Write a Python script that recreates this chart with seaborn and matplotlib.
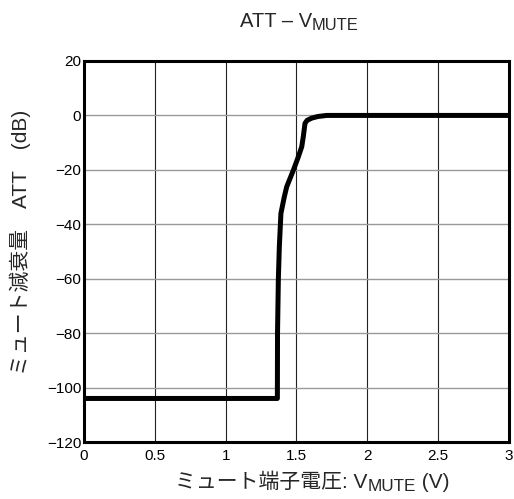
import matplotlib
matplotlib.use("Agg")
import matplotlib.pyplot as plt
import seaborn as sns
import pandas as pd

# Mute attenuation vs mute pin voltage
v_mute = [0.0, 1.365, 1.366, 1.372, 1.379, 1.39, 1.414, 1.431, 1.478, 1.513,
          1.537, 1.548, 1.56, 1.575, 1.607, 1.65, 1.713, 2.0, 3.0]
att_db = [-104.0, -104.0, -80.0, -60.0, -48.0, -36.0, -29.9, -26.2, -20.1, -15.2,
          -11.5, -7.8, -2.9, -1.8, -1.0, -0.4, 0.0, 0.0, 0.0]

x_ticks = [0, 0.5, 1, 1.5, 2, 2.5, 3]
x_tick_labels = ["0", "0.5", "1", "1.5", "2", "2.5", "3"]
y_ticks = [-120, -100, -80, -60, -40, -20, 0, 20]
y_tick_labels = ["\u2212120", "\u2212100", "\u221280", "\u221260", "\u221240", "\u221220", "0", "20"]

title_parts = [("ATT \u2013 V", False), ("MUTE", True)]
xlabel_parts = [("ミュート端子電圧: V", False), ("MUTE", True), (" (V)", False)]
ylabel_text = "ミュート減衰量\u3000ATT\u3000(dB)"

sns.set_theme(style="white")
plt.rcParams["font.family"] = ["Liberation Sans", "Noto Sans CJK JP", "DejaVu Sans"]

df = pd.DataFrame({"V": v_mute, "ATT": att_db})

W, H = 514, 499
fig = plt.figure(figsize=(W / 100, H / 100), dpi=100)
ax = fig.add_axes([84 / W, 1 - 442 / H, (509 - 84) / W, (442 - 61) / H])

sns.lineplot(data=df, x="V", y="ATT", ax=ax, color="black", linewidth=3.6,
             sort=False, estimator=None, zorder=5)

ax.set_xlim(0, 3)
ax.set_ylim(-120, 20)
ax.set_xticks(x_ticks)
ax.set_xticklabels(x_tick_labels)
ax.set_yticks(y_ticks)
ax.set_yticklabels(y_tick_labels)
ax.tick_params(axis="both", length=0, labelsize=11, colors="black")
ax.tick_params(axis="x", pad=5)
ax.tick_params(axis="y", pad=2)

for x in x_ticks[1:-1]:
    ax.axvline(x, color="#222222", linewidth=0.8, zorder=1)
for y in y_ticks[1:-1]:
    ax.axhline(y, color="#999999", linewidth=1.0, zorder=1)

for sp in ax.spines.values():
    sp.set_visible(True)
    sp.set_color("black")
    sp.set_linewidth(2.2)

ax.set_xlabel("")
ax.set_ylabel("")
fig.text(20 / W, 1 - 242 / H, ylabel_text, rotation=90, ha="center", va="center",
         fontsize=15)


def draw_parts(parts, cx_px, baseline_px, size, sub_scale=0.82, sub_drop=3.0):
    """Draw a label with lowered, smaller runs, centred at cx_px."""
    renderer = fig.canvas.get_renderer()
    arts, widths = [], []
    for text, is_sub in parts:
        fs = size * sub_scale if is_sub else size
        t = fig.text(0, 0, text, fontsize=fs, ha="left", va="baseline")
        arts.append((t, is_sub))
        widths.append(t.get_window_extent(renderer).width)
    x = cx_px - sum(widths) / 2
    for (t, is_sub), w in zip(arts, widths):
        y = baseline_px + (sub_drop if is_sub else 0)
        t.set_position((x / W, 1 - y / H))
        x += w


draw_parts(title_parts, 299, 27, 14.5)
draw_parts(xlabel_parts, 312, 488, 15)

fig.savefig("out.png", dpi=100)
